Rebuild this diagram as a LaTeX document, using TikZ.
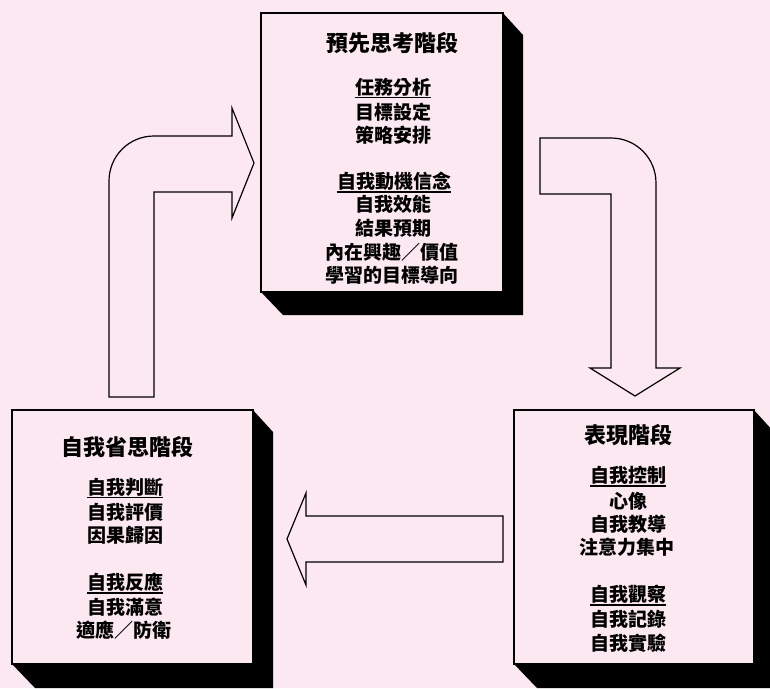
\documentclass[tikz,border=0pt]{standalone}
\usepackage{fontspec}
\setmainfont{Noto Sans CJK TC}
\definecolor{bgpink}{HTML}{FCE8F0}
\tikzset{
  boxnode/.style={draw=black, line width=1.6pt, fill=bgpink, anchor=north west, inner sep=0pt},
  shadowfill/.style={fill=black, draw=none},
  blockarrow/.style={draw=black, line width=1.2pt, fill=bgpink, line join=miter},
  ttl/.style={font=\bfseries\fontsize{22}{24}\selectfont, inner sep=0pt},
  txt/.style={font=\bfseries\fontsize{19}{22}\selectfont, inner sep=0pt},
  ulline/.style={line width=1.5pt, draw=black},
}
\begin{document}
\begin{tikzpicture}[x=1pt,y=-1pt]
\useasboundingbox (0,0) rectangle (770,688);
\clip (0,0) rectangle (770,688);
\fill[bgpink] (0,0) rectangle (770,688);

% shadows
\fill[shadowfill] (502,12) -- (523,35) -- (523,315) -- (283,315) -- (260,291) -- cycle;
\fill[shadowfill] (252,409) -- (273,432) -- (273,688) -- (35,688) -- (11,663) -- cycle;
\fill[shadowfill] (753,409) -- (774,432) -- (774,688) -- (537,688) -- (513,663) -- cycle;

% boxes
\node[boxnode, minimum width=242pt, minimum height=279pt] (pre) at (260,12) {};
\node[boxnode, minimum width=241pt, minimum height=254pt] (refl) at (11,409) {};
\node[boxnode, minimum width=240pt, minimum height=254pt] (perf) at (513,409) {};

% block arrows
\draw[blockarrow] (109,397) -- (109,181) .. controls (109,156) and (129,136) .. (154,136)
  -- (232,136) -- (232,108) -- (254,163) -- (232,218) -- (232,192) -- (154,192) -- (154,397) -- cycle;
\draw[blockarrow] (540,138) -- (611,138) .. controls (636,138) and (656,158) .. (656,183)
  -- (656,368) -- (680,368) -- (635,396) -- (590,368) -- (611,368) -- (611,194) -- (540,194) -- cycle;
\draw[blockarrow] (503,516) -- (306,516) -- (306,493) -- (287,539) -- (306,585) -- (306,562) -- (503,562) -- cycle;

% top box text
\node[ttl] (p0) at (392,43) {預先思考階段};
\node[txt] (p1) at (393,87) {任務分析};
\node[txt] (p2) at (393,112) {目標設定};
\node[txt] (p3) at (393,135) {策略安排};
\node[txt] (p4) at (394,181) {自我動機信念};
\node[txt] (p5) at (393,204) {自我效能};
\node[txt] (p6) at (393,228) {結果預期};
\node[txt] (p7) at (392,252) {內在興趣／價值};
\node[txt] (p8) at (392,275) {學習的目標導向};

% left box text
\node[ttl] (r0) at (127,447) {自我省思階段};
\node[txt] (r1) at (125,487) {自我判斷};
\node[txt] (r2) at (125,512) {自我評價};
\node[txt] (r3) at (125,535) {因果歸因};
\node[txt] (r4) at (125,582) {自我反應};
\node[txt] (r5) at (125,607) {自我滿意};
\node[txt] (r6) at (124,630) {適應／防衛};

% right box text
\node[ttl] (f0) at (628,435) {表現階段};
\node[txt] (f1) at (628,475) {自我控制};
\node[txt] (f2) at (628,501) {心像};
\node[txt] (f3) at (628,524) {自我教導};
\node[txt] (f4) at (627,547) {注意力集中};
\node[txt] (f5) at (628,594) {自我觀察};
\node[txt] (f6) at (628,619) {自我記錄};
\node[txt] (f7) at (628,643) {自我實驗};

% underlines
\draw[ulline] ([yshift=-3.5pt]p1.base west) -- ([yshift=-3.5pt]p1.base east);
\draw[ulline] ([yshift=-3.5pt]p4.base west) -- ([yshift=-3.5pt]p4.base east);
\draw[ulline] ([yshift=-3.5pt]r1.base west) -- ([yshift=-3.5pt]r1.base east);
\draw[ulline] ([yshift=-3.5pt]r4.base west) -- ([yshift=-3.5pt]r4.base east);
\draw[ulline] ([yshift=-3.5pt]f1.base west) -- ([yshift=-3.5pt]f1.base east);
\draw[ulline] ([yshift=-3.5pt]f5.base west) -- ([yshift=-3.5pt]f5.base east);
\end{tikzpicture}
\end{document}
